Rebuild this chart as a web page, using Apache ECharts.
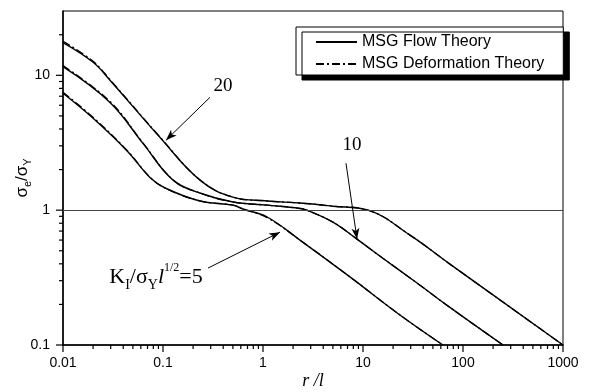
<!DOCTYPE html>
<html>
<head>
<meta charset="utf-8">
<script src="https://cdn.jsdelivr.net/npm/echarts@6/dist/echarts.min.js"></script>
<style>
  html, body { margin: 0; padding: 0; background: #fff; }
  #chart { width: 591px; height: 392px; }
</style>
</head>
<body>
<div id="chart"></div>
<script>
// r/l sample points per curve
const r5 = [0.01, 0.02, 0.044, 0.074, 0.105, 0.234, 0.5, 0.63, 1.1, 2.34, 7.4, 23.4, 63];
const r10 = [0.01, 0.0295, 0.063, 0.126, 0.234, 0.5, 1.1, 2.34, 2.75, 5, 8.7, 15.8, 34.7, 74, 251];
const r20 = [0.01, 0.02, 0.0295, 0.093, 0.234, 0.5, 1.1, 2.34, 5, 11.2, 29.5, 74, 1000];

// sigma_e / sigma_Y, MSG flow theory
const flow5 = [7.36, 4.8, 2.74, 1.75, 1.46, 1.17, 1.09, 1.02, 0.89, 0.6, 0.32, 0.167, 0.1];
const flow10 = [11.6, 6.3, 3.13, 1.67, 1.34, 1.15, 1.09, 1.03, 1.0, 0.815, 0.61, 0.44, 0.288, 0.19, 0.1];
const flow20 = [17.5, 12.5, 9.2, 3.47, 1.67, 1.25, 1.17, 1.13, 1.07, 1.0, 0.653, 0.398, 0.1];

// MSG deformation theory (almost on top of the flow curves)
const def5 = [7.5, 4.88, 2.76, 1.76, 1.46, 1.17, 1.09, 1.02, 0.88, 0.6, 0.32, 0.167, 0.1];
const def10 = [11.8, 6.4, 3.16, 1.68, 1.34, 1.15, 1.09, 1.03, 1.0, 0.815, 0.61, 0.44, 0.288, 0.19, 0.1];
const def20 = [17.9, 12.7, 9.3, 3.5, 1.68, 1.25, 1.17, 1.13, 1.07, 1.0, 0.653, 0.398, 0.1];

const xTicks = [0.01, 0.1, 1, 10, 100, 1000];
const xMinor = [0.02, 0.03, 0.04, 0.05, 0.06, 0.07, 0.08, 0.09,
  0.2, 0.3, 0.4, 0.5, 0.6, 0.7, 0.8, 0.9, 2, 3, 4, 5, 6, 7, 8, 9,
  20, 30, 40, 50, 60, 70, 80, 90, 200, 300, 400, 500, 600, 700, 800, 900];
const yTicks = [0.1, 1, 10];
const yMinor = [0.2, 0.3, 0.4, 0.5, 0.6, 0.7, 0.8, 0.9, 2, 3, 4, 5, 6, 7, 8, 9, 20];

// annotations (data coords)
const arrows = [
  [[0.295, 6.87], [0.107, 3.3]],
  [[6.76, 2.23], [8.71, 0.61]],
  [[0.282, 0.372], [1.48, 0.687]]
];

const X_MIN = 0.01, X_MAX = 1000, Y_MIN = 0.1, Y_MAX = 30;

const zip = (xs, ys) => xs.map((x, i) => [x, ys[i]]);
const sans = 'Liberation Sans, Arial, sans-serif';
const serif = 'Liberation Serif, Times New Roman, serif';

function curve(name, xs, ys, dashed) {
  return {
    name: name,
    type: 'line',
    data: zip(xs, ys),
    symbol: 'none',
    smooth: 0.4,
    silent: true,
    animation: false,
    z: dashed ? 3 : 2,
    lineStyle: {
      color: '#000',
      width: dashed ? 1.3 : 1.4,
      type: dashed ? [8, 3, 2, 3] : 'solid'
    },
    itemStyle: { color: '#000' }
  };
}

const chart = echarts.init(document.getElementById('chart'));

const flowSeries = [curve('MSG Flow Theory', r5, flow5), curve('MSG Flow Theory', r10, flow10), curve('MSG Flow Theory', r20, flow20)];
const defSeries = [curve('MSG Deformation Theory', r5, def5, true), curve('MSG Deformation Theory', r10, def10, true), curve('MSG Deformation Theory', r20, def20, true)];

// the y = 1 line and the arrows
flowSeries[0].markLine = {
  silent: true,
  animation: false,
  label: { show: false },
  symbol: ['none', 'none'],
  lineStyle: { color: '#444', width: 1, type: 'solid' },
  data: [{ yAxis: 1 }]
};
flowSeries[1].markLine = {
  silent: true,
  animation: false,
  label: { show: false },
  symbol: ['none', 'arrow'],
  symbolSize: [6, 11],
  lineStyle: { color: '#000', width: 1, type: 'solid' },
  data: arrows.map(a => [{ coord: a[0] }, { coord: a[1] }])
};
flowSeries[2].markPoint = {
  silent: true,
  animation: false,
  symbol: 'circle',
  symbolSize: 0,
  data: [
    { coord: [0.398, 8.29], label: { formatter: '20', fontSize: 19 } },
    { coord: [7.76, 3.03], label: { formatter: '10', fontSize: 19 } },
    {
      coord: [0.0851, 0.319],
      label: {
        formatter: '{m|K}{s|I}{m|/σ}{s|Y}{i|l}{p|1/2}{m|=5}',
        rich: {
          m: { fontFamily: serif, fontSize: 22, color: '#000' },
          i: { fontFamily: serif, fontSize: 22, fontStyle: 'italic', color: '#000' },
          s: { fontFamily: serif, fontSize: 14, color: '#000', verticalAlign: 'bottom', lineHeight: 14 },
          p: { fontFamily: serif, fontSize: 12, color: '#000', verticalAlign: 'top', lineHeight: 12 }
        },
        lineHeight: 30
      }
    }
  ],
  label: { show: true, position: 'inside', color: '#000', fontFamily: serif }
};

const option = {
  backgroundColor: '#fff',
  grid: {
    left: 63, right: 28, top: 11, bottom: 47,
    show: true, borderColor: '#000', borderWidth: 1,
    outerBoundsMode: 'none'
  },
  legend: {
    data: ['MSG Flow Theory', 'MSG Deformation Theory'],
    orient: 'vertical',
    left: 296,
    top: 27,
    itemWidth: 41,
    itemHeight: 14,
    itemGap: 6,
    padding: [7, 19, 3, 19],
    selectedMode: false,
    backgroundColor: '#fff',
    borderColor: '#000',
    borderWidth: 1,
    shadowColor: '#000',
    shadowBlur: 0,
    shadowOffsetX: 6,
    shadowOffsetY: 5,
    itemStyle: { opacity: 0 },
    textStyle: { fontFamily: sans, fontSize: 16, color: '#000' }
  },
  xAxis: {
    type: 'log',
    min: X_MIN,
    max: X_MAX,
    name: 'r /l',
    nameLocation: 'middle',
    nameGap: 27,
    nameMoveOverlap: false,
    nameTextStyle: { fontFamily: serif, fontStyle: 'italic', fontSize: 18, color: '#000' },
    axisLine: { lineStyle: { color: '#000', width: 1.5 } },
    axisTick: { show: false },
    axisLabel: {
      customValues: xTicks,
      margin: 11,
      fontFamily: sans, fontSize: 14, color: '#000',
      formatter: v => String(+v.toPrecision(3))
    },
    splitLine: { show: false }
  },
  yAxis: {
    type: 'log',
    min: Y_MIN,
    max: Y_MAX,
    name: 'σ{e|e}/σ{Y|Y}',
    nameLocation: 'middle',
    nameRotate: 90,
    nameGap: 30,
    nameMoveOverlap: false,
    nameTextStyle: {
      fontFamily: sans, fontSize: 17, color: '#000',
      rich: {
        e: { fontFamily: sans, fontSize: 11, color: '#000', verticalAlign: 'bottom', lineHeight: 11 },
        Y: { fontFamily: sans, fontSize: 11, color: '#000', verticalAlign: 'bottom', lineHeight: 11 }
      },
      lineHeight: 22
    },
    axisLine: { lineStyle: { color: '#000', width: 1.5 } },
    axisTick: { show: false },
    axisLabel: {
      customValues: yTicks,
      margin: 13,
      fontFamily: sans, fontSize: 14, color: '#000',
      formatter: v => String(+v.toPrecision(3))
    },
    splitLine: { show: false }
  },
  series: flowSeries.concat(defSeries)
};

chart.setOption(option);

// axis ticks, placed through the chart's own log scales
function tickLines(values, isX, len) {
  return values.map(v => {
    const p = chart.convertToPixel({ gridIndex: 0 }, isX ? [v, Y_MIN] : [X_MIN, v]);
    return {
      type: 'line',
      shape: isX
        ? { x1: p[0], y1: p[1], x2: p[0], y2: p[1] + len }
        : { x1: p[0], y1: p[1], x2: p[0] - len, y2: p[1] },
      style: { stroke: '#000', lineWidth: 1.2 }
    };
  });
}

chart.setOption({
  graphic: [].concat(
    tickLines(xTicks, true, 7),
    tickLines(xMinor, true, 4),
    tickLines(yTicks, false, 7),
    tickLines(yMinor, false, 4)
  )
});
</script>
</body>
</html>
